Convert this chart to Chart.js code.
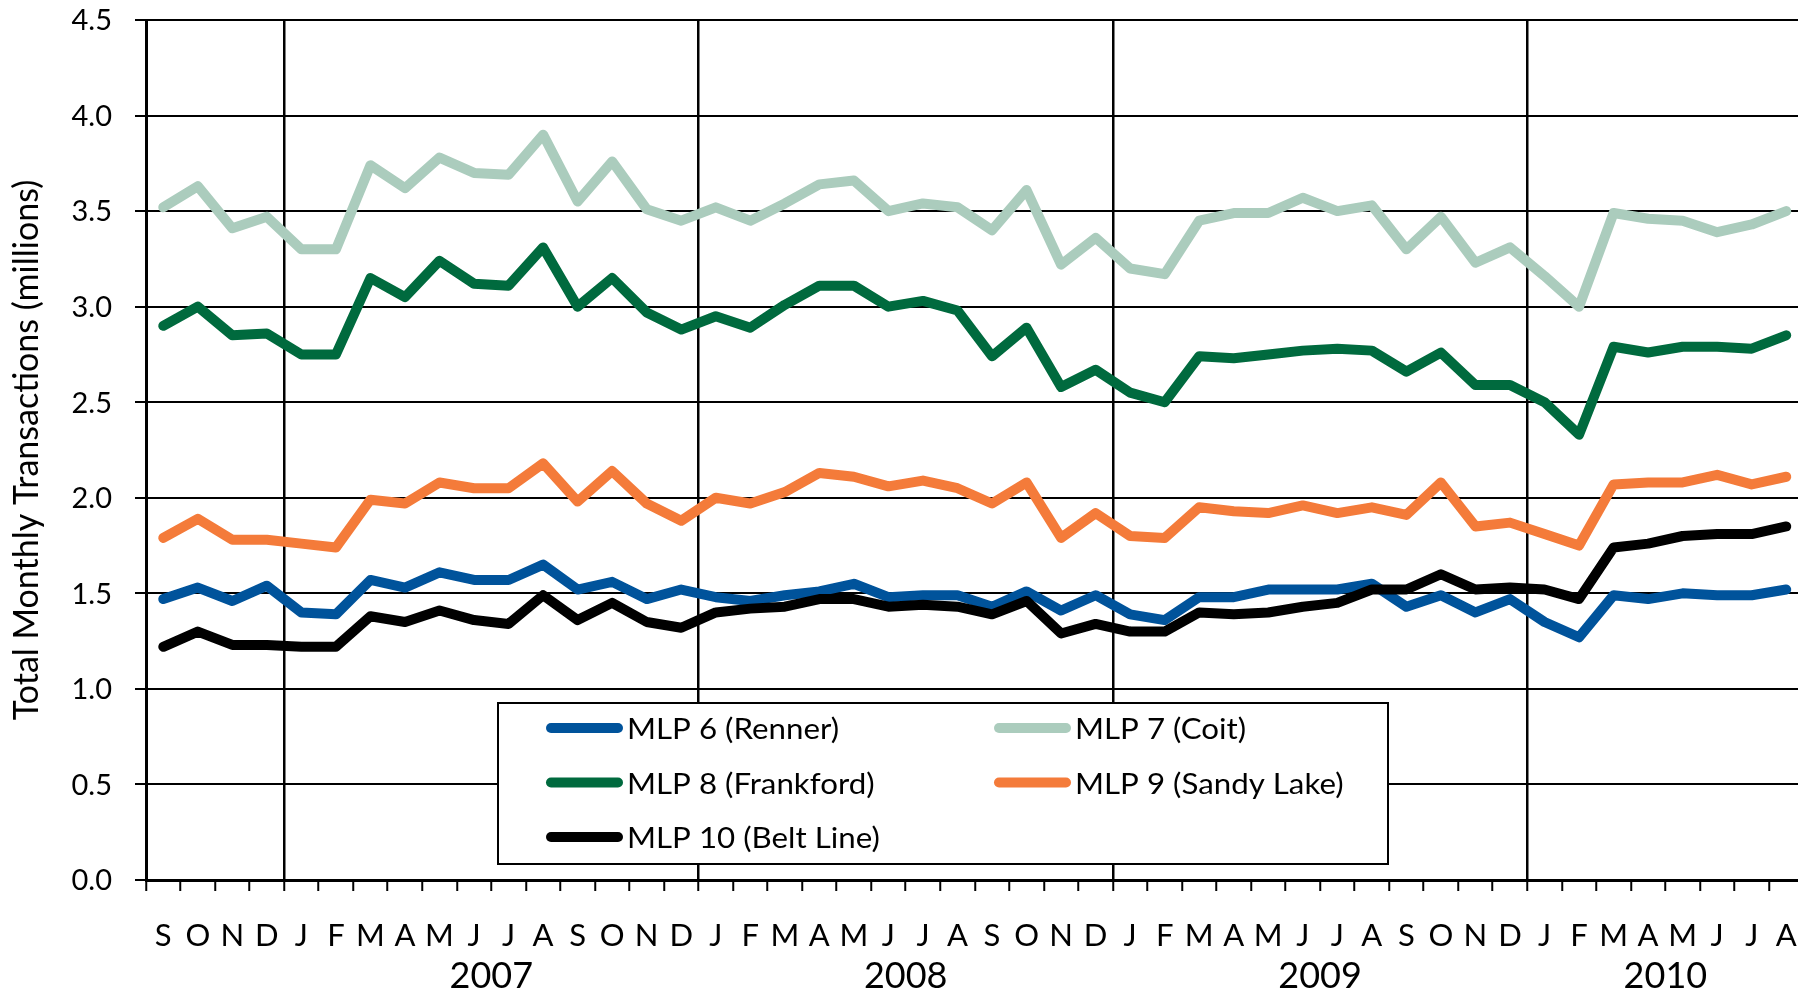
<!DOCTYPE html>
<html>
<head>
<meta charset="utf-8">
<script src="https://cdn.jsdelivr.net/npm/chart.js@4.4.0/dist/chart.umd.min.js"></script>
<style>
html,body{margin:0;padding:0;overflow:hidden;background:#fff;width:1798px;height:993px}
#wrap{position:absolute;left:0;top:0;width:1808px;height:993px}
</style>
</head>
<body>
<div id="wrap"><canvas id="c" width="1808" height="993"></canvas></div>
<script>
// ---- data ----
const months = ['S','O','N','D',
  'J','F','M','A','M','J','J','A','S','O','N','D',
  'J','F','M','A','M','J','J','A','S','O','N','D',
  'J','F','M','A','M','J','J','A','S','O','N','D',
  'J','F','M','A','M','J','J','A'];
const yearLabels = ['2007','2008','2009','2010'];
const yTicks = [0,0.5,1,1.5,2,2.5,3,3.5,4,4.5];

const renner = [1.47,1.53,1.46,1.54,1.40,1.39,1.57,1.53,1.61,1.57,1.57,1.65,1.52,1.56,1.47,1.52,
  1.48,1.46,1.49,1.51,1.55,1.48,1.49,1.49,1.43,1.51,1.41,1.49,
  1.39,1.36,1.48,1.48,1.52,1.52,1.52,1.55,1.43,1.49,1.40,1.47,
  1.35,1.27,1.49,1.47,1.50,1.49,1.49,1.52];
const coit = [3.52,3.63,3.41,3.47,3.30,3.30,3.74,3.62,3.78,3.70,3.69,3.90,3.55,3.76,3.51,3.45,
  3.52,3.45,3.54,3.64,3.66,3.50,3.54,3.52,3.40,3.61,3.22,3.36,
  3.20,3.17,3.45,3.49,3.49,3.57,3.50,3.53,3.30,3.47,3.23,3.31,
  3.16,3.00,3.49,3.46,3.45,3.39,3.43,3.50];
const frankford = [2.90,3.00,2.85,2.86,2.75,2.75,3.15,3.05,3.24,3.12,3.11,3.31,3.00,3.15,2.97,2.88,
  2.95,2.89,3.01,3.11,3.11,3.00,3.03,2.98,2.74,2.89,2.58,2.67,
  2.55,2.50,2.74,2.73,2.75,2.77,2.78,2.77,2.66,2.76,2.59,2.59,
  2.50,2.33,2.79,2.76,2.79,2.79,2.78,2.85];
const sandyLake = [1.79,1.89,1.78,1.78,1.76,1.74,1.99,1.97,2.08,2.05,2.05,2.18,1.98,2.14,1.97,1.88,
  2.00,1.97,2.03,2.13,2.11,2.06,2.09,2.05,1.97,2.08,1.79,1.92,
  1.80,1.79,1.95,1.93,1.92,1.96,1.92,1.95,1.91,2.08,1.85,1.87,
  1.81,1.75,2.07,2.08,2.08,2.12,2.07,2.11];
const beltLine = [1.22,1.30,1.23,1.23,1.22,1.22,1.38,1.35,1.41,1.36,1.34,1.49,1.36,1.45,1.35,1.32,
  1.40,1.42,1.43,1.47,1.47,1.43,1.44,1.43,1.39,1.46,1.29,1.34,
  1.30,1.30,1.40,1.39,1.40,1.43,1.45,1.52,1.52,1.60,1.52,1.53,
  1.52,1.47,1.74,1.76,1.80,1.81,1.81,1.85];

const seriesNames = ['MLP 6 (Renner)','MLP 7 (Coit)','MLP 8 (Frankford)','MLP 9 (Sandy Lake)','MLP 10 (Belt Line)'];
const seriesColors = ['#00539B','#ABCCBD','#006A3E','#F47B3A','#000000'];
const seriesValues = [renner, coit, frankford, sandyLake, beltLine];
const yTitle = 'Total Monthly Transactions (millions)';

// year start indices (first January after a December) and year centers
const yearStarts = [];
months.forEach((m, i) => { if (m === 'J' && i > 0 && months[i-1] === 'D') yearStarts.push(i); });
const yearCenters = yearStarts.map((s) => {
  const end = Math.min(s + 11, months.length - 1);
  return (s + end) / 2;
});

const FONT = 'Lato, "Open Sans", sans-serif';
Chart.defaults.font.family = FONT;
Chart.defaults.color = '#000';

const boxLegend = {
  id: 'boxLegend',
  afterDatasetsDraw(chart, args, o) {
    const {ctx, chartArea} = chart;
    const x0 = chartArea.left + o.left;
    const y0 = chartArea.bottom - o.bottom - o.height;
    ctx.save();
    ctx.fillStyle = '#fff';
    ctx.fillRect(x0, y0, o.width, o.height);
    ctx.strokeStyle = '#000';
    ctx.lineWidth = 2;
    ctx.strokeRect(x0, y0, o.width, o.height);
    ctx.font = o.fontSize + 'px ' + FONT;
    const sx = o.refWidth / ctx.measureText(chart.data.datasets[0].label).width;
    chart.data.datasets.forEach((ds, i) => {
      const col = i % 2, row = Math.floor(i / 2);
      const lx = x0 + o.padX + col * o.colW;
      const ly = y0 + o.padY + row * o.rowH;
      ctx.strokeStyle = ds.borderColor;
      ctx.lineWidth = 10;
      ctx.lineCap = 'round';
      ctx.beginPath();
      ctx.moveTo(lx + 5, ly);
      ctx.lineTo(lx + o.sample - 5, ly);
      ctx.stroke();
      ctx.fillStyle = '#000';
      ctx.textBaseline = 'alphabetic';
      ctx.save();
      ctx.translate(lx + o.textGap, ly + 11);
      ctx.scale(sx, 1);
      ctx.fillText(ds.label, 0, 0);
      ctx.restore();
    });
    ctx.restore();
  }
};

function noPad(s) { s.paddingLeft = 0; s.paddingRight = 0; s.paddingTop = 0; s.paddingBottom = 0; }

new Chart(document.getElementById('c'), {
  type: 'line',
  data: {
    labels: months,
    datasets: seriesValues.map((vals, i) => ({
      label: seriesNames[i],
      data: vals,
      borderColor: seriesColors[i],
      backgroundColor: seriesColors[i],
      borderWidth: 10,
      pointRadius: 0,
      tension: 0,
      fill: false,
      borderJoinStyle: 'round',
      borderCapStyle: 'round',
      order: seriesValues.length - i,
      xAxisID: 'x',
      yAxisID: 'y'
    }))
  },
  options: {
    responsive: false,
    animation: false,
    devicePixelRatio: 1,
    layout: {padding: {top: 20, right: 4.5, bottom: 0, left: 0}},
    plugins: {
      legend: {display: false},
      tooltip: {enabled: false},
      boxLegend: {left: 352, bottom: 16, width: 890, height: 161, padX: 48, padY: 25, colW: 448, rowH: 54.5, sample: 77, textGap: 81, fontSize: 29, refWidth: 212}
    },
    scales: {
      x: {
        type: 'category',
        position: 'bottom',
        offset: true,
        weight: 0,
        ticks: {font: {size: 31}, color: '#000', padding: 26, maxRotation: 0, minRotation: 0, autoSkip: false},
        grid: {
          offset: true,
          color: c => yearStarts.includes(c.index) ? '#000' : 'rgba(0,0,0,0)',
          lineWidth: 2.5,
          tickColor: '#000',
          tickWidth: 2,
          tickLength: 11
        },
        border: {color: '#000', width: 3},
        afterFit: s => { s.height = 75; noPad(s); }
      },
      x2: {
        type: 'linear',
        position: 'bottom',
        weight: 1,
        min: -0.5,
        max: months.length - 0.5,
        afterBuildTicks: s => { s.ticks = yearCenters.map(v => ({value: v})); },
        ticks: {callback: (v, i) => yearLabels[i], font: {size: 36}, color: '#000', padding: 0, autoSkip: false, maxRotation: 0, minRotation: 0},
        grid: {display: false, drawTicks: false},
        border: {display: false},
        afterFit: s => { s.height = 38; noPad(s); }
      },
      y: {
        type: 'linear',
        position: 'left',
        min: yTicks[0],
        max: yTicks[yTicks.length - 1],
        afterBuildTicks: s => { s.ticks = yTicks.map(v => ({value: v})); },
        ticks: {callback: v => v.toFixed(1), font: {size: 29}, color: '#000', padding: 23, labelOffset: 1},
        grid: {color: '#000', lineWidth: 2, tickLength: 11, tickColor: '#000'},
        border: {color: '#000', width: 3},
        title: {display: true, text: yTitle, font: {size: 34}, color: '#000', padding: {top: 7, bottom: 0}},
        afterFit: s => { s.width = 146; noPad(s); }
      }
    }
  },
  plugins: [boxLegend]
});
</script>
</body>
</html>
